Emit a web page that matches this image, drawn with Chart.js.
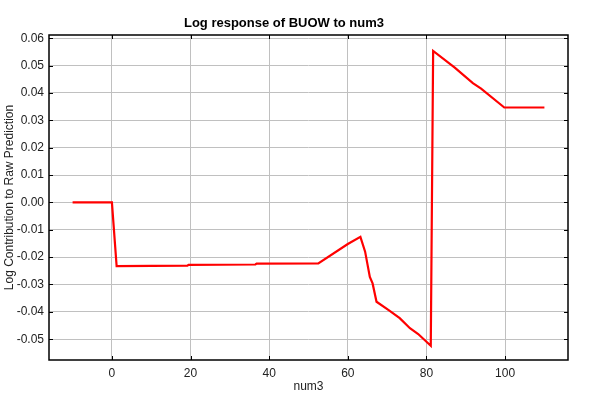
<!DOCTYPE html>
<html lang="en">
<head>
    <meta charset="UTF-8">
    <title>Log response of BUOW to num3</title>
    <style>
        body { margin: 0; background: #fff; }
        #box { width: 600px; height: 400px; }
    </style>
</head>
<body>
    <div id="box">
        <canvas id="myChart" width="600" height="400"></canvas>
    </div>

<script src="https://cdn.jsdelivr.net/npm/chart.js"></script>
<script>
    // values
    const num3Values = [-10, 0, 1.2, 19.2, 19.5, 36.5, 36.8, 52.5, 60, 63.2, 64.4, 65.6, 66.3, 67.3,
        70.3, 73.2, 75.8, 77.9, 81.1, 81.7, 87.2, 91.8, 93.9, 99.8, 110];
    const logContrib = [0, 0, -0.0233, -0.0231, -0.0228, -0.0227, -0.0224, -0.0223, -0.0152, -0.0126,
        -0.0180, -0.0272, -0.0296, -0.0363, -0.0393, -0.0423, -0.0460, -0.0481, -0.0524,
        0.0554, 0.0493, 0.0436, 0.0416, 0.0347, 0.0347];
    const xTicks = [0, 20, 40, 60, 80, 100];
    const yTicks = [-0.05, -0.04, -0.03, -0.02, -0.01, 0, 0.01, 0.02, 0.03, 0.04, 0.05, 0.06];

    const points = num3Values.map((v, i) => ({ x: v, y: logContrib[i] }));

    // frame round the plot plus the little inside tick marks
    const frameTicks = {
        id: 'frameTicks',
        afterDraw(chart) {
            const c = chart.ctx;
            const a = chart.chartArea;
            const xs = chart.scales.x;
            const ys = chart.scales.y;
            c.save();
            c.strokeStyle = '#000';
            c.lineWidth = 1;
            xTicks.forEach(t => {
                const px = Math.round(xs.getPixelForValue(t)) + 0.5;
                c.beginPath();
                c.moveTo(px, a.top); c.lineTo(px, a.top + 4);
                c.moveTo(px, a.bottom); c.lineTo(px, a.bottom - 4);
                c.stroke();
            });
            yTicks.forEach(t => {
                const py = Math.round(ys.getPixelForValue(t)) + 0.5;
                c.beginPath();
                c.moveTo(a.left, py); c.lineTo(a.left + 4, py);
                c.moveTo(a.right, py); c.lineTo(a.right - 4, py);
                c.stroke();
            });
            c.lineWidth = 1.5;
            c.strokeRect(a.left, a.top, a.right - a.left, a.bottom - a.top);
            c.restore();
        }
    };

    Chart.defaults.font.family = '"Liberation Sans", Arial, sans-serif';
    Chart.defaults.font.size = 12;
    Chart.defaults.color = '#222';

    const myChart = new Chart(document.getElementById('myChart'), {
        type: 'line',
        data: {
            datasets: [{
                label: 'num3',
                data: points,
                borderColor: '#ff0000',
                backgroundColor: '#ff0000',
                borderWidth: 2.2,
                pointRadius: 0,
                tension: 0,
                fill: false
            }]
        },
        options: {
            responsive: false,
            animation: false,
            layout: { padding: { top: 0, right: 32, bottom: 2, left: 0 } },
            plugins: {
                legend: { display: false },
                tooltip: { enabled: false },
                title: {
                    display: true,
                    text: 'Log response of BUOW to num3',
                    color: '#000',
                    font: { size: 13, weight: 'bold' },
                    padding: { top: 16, bottom: 3.4 }
                }
            },
            scales: {
                x: {
                    type: 'linear',
                    min: -16,
                    max: 116,
                    afterBuildTicks: (s) => { s.ticks = xTicks.map(v => ({ value: v })); },
                    afterFit: (s) => { s.height = 38; },
                    ticks: { padding: 6, color: '#222' },
                    grid: { color: '#c0c0c0', drawTicks: false },
                    border: { display: false },
                    title: { display: true, text: 'num3', color: '#222', padding: { top: 0, bottom: 4 } }
                },
                y: {
                    type: 'linear',
                    min: -0.0576,
                    max: 0.0612,
                    afterBuildTicks: (s) => { s.ticks = yTicks.map(v => ({ value: v })); },
                    afterFit: (s) => { s.width = 49; },
                    ticks: {
                        padding: 5,
                        color: '#222',
                        callback: (v) => (Math.abs(v) < 1e-9 ? 0 : v).toFixed(2)
                    },
                    grid: { color: '#c0c0c0', drawTicks: false },
                    border: { display: false },
                    title: { display: true, text: 'Log Contribution to Raw Prediction', color: '#222', padding: { top: 2, bottom: 0 } }
                }
            }
        },
        plugins: [frameTicks]
    });
</script>
</body>
</html>
